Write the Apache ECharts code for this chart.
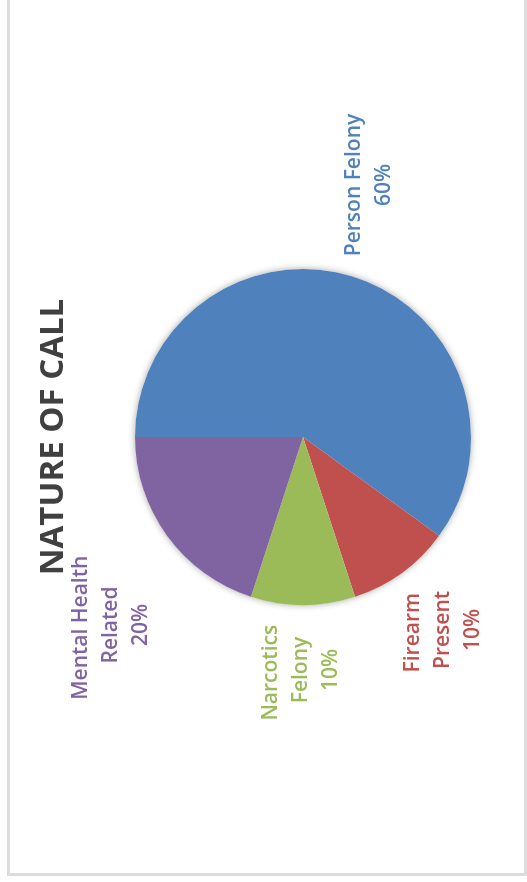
<!DOCTYPE html>
<html>
<head>
<meta charset="utf-8">
<script src="https://cdn.jsdelivr.net/npm/echarts@6/dist/echarts.min.js"></script>
<style>
  html, body { margin: 0; padding: 0; background: #fff; width: 527px; height: 882px; overflow: hidden; }
  #frame {
    position: absolute; left: 7px; top: -3px; width: 520px; height: 879px;
    box-sizing: border-box; border: 3px solid #dddddd;
  }
  /* chart laid out landscape, then turned a quarter turn counter-clockwise */
  #chart {
    position: absolute; left: 0; top: 0; width: 882px; height: 527px;
    transform-origin: 0 0; transform: translateY(882px) rotate(-90deg);
  }
</style>
</head>
<body>
<div id="frame"></div>
<div id="chart"></div>
<script>
// Nature of call, share of incidents (%)
const categories = ['Person Felony', 'Firearm Present', 'Narcotics Felony', 'Mental Health Related'];
const shares = [60, 10, 10, 20];

const sliceColors = ['#4F81BD', '#C0504D', '#9BBB59', '#8064A2'];
const labelWrapWidths = [210, 115, 120, 180];
const labelCenters = [[697, 369], [252, 443], [212, 301], [257, 111]];
const pieCenter = [445, 303];
const pieRadius = 168;
const labelFont = '"Open Sans", "Noto Sans", sans-serif';

const total = shares.reduce((a, b) => a + b, 0);

const chart = echarts.init(document.getElementById('chart'), null, { renderer: 'canvas' });
chart.setOption({
  animation: false,
  backgroundColor: 'transparent',
  title: {
    text: 'NATURE OF CALL',
    left: 440,
    textAlign: 'center',
    top: 32,
    textStyle: { fontFamily: labelFont, fontSize: 33, fontWeight: 'bold', color: '#404040' }
  },
  series: [
    {
      // soft halo under the disc
      type: 'pie',
      silent: true,
      z: 1,
      center: pieCenter,
      radius: pieRadius,
      startAngle: 90,
      label: { show: false },
      labelLine: { show: false },
      itemStyle: { color: '#ffffff', shadowBlur: 7, shadowColor: 'rgba(0,0,0,0.35)' },
      data: [{ value: total, name: 'all' }]
    },
    {
      type: 'pie',
      z: 2,
      center: pieCenter,
      radius: pieRadius,
      startAngle: 90,
      clockwise: true,
      avoidLabelOverlap: false,
      labelLine: { show: false },
      label: {
        show: true,
        position: 'outside',
        formatter: '{b}\n{c}%',
        fontFamily: labelFont,
        fontSize: 21,
        fontWeight: 600,
        lineHeight: 30,
        overflow: 'break',
        align: 'center'
      },
      labelLayout: function (p) {
        const c = labelCenters[p.dataIndex];
        return { x: c[0], y: c[1], align: 'center', verticalAlign: 'middle' };
      },
      data: categories.map((name, i) => ({
        name: name,
        value: shares[i],
        itemStyle: { color: sliceColors[i] },
        label: { color: sliceColors[i], width: labelWrapWidths[i] }
      }))
    }
  ]
});
</script>
</body>
</html>
